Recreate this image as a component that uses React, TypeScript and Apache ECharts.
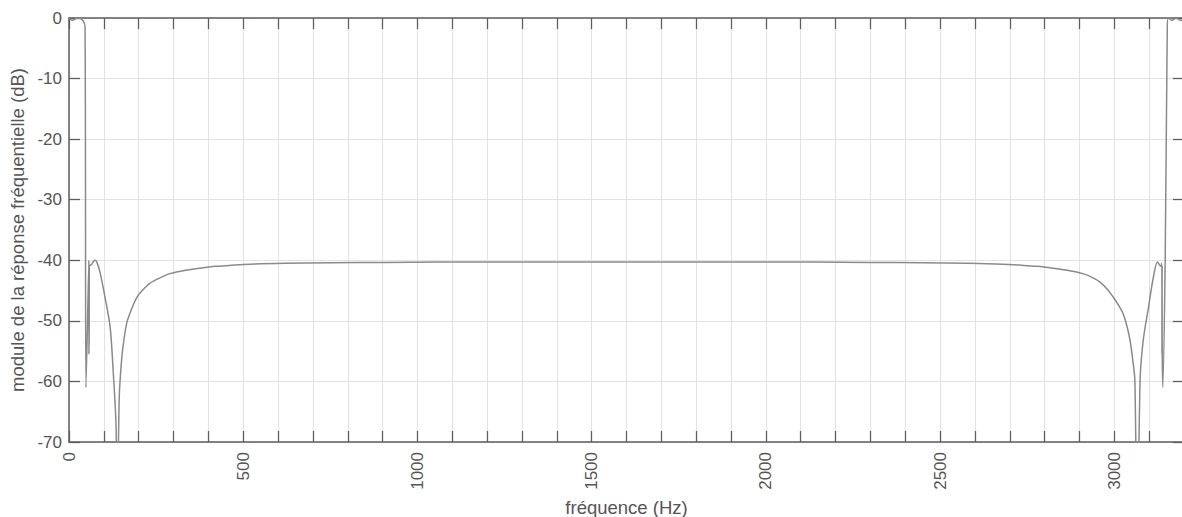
import React, { useEffect, useRef } from "react";
import * as echarts from "echarts";

// Frequency (Hz) and magnitude (dB)
const freqHz: number[] = [
  0, 10, 25, 40, 46, 48.8, 57, 57.3, 57.6, 57.9, 58.2, 62, 66, 70, 75, 80, 89, 103, 118, 127, 135, 138,
  144, 151, 158, 166, 180, 194, 210, 232, 261, 290, 340, 376, 420, 460, 520, 620, 750, 900, 1065, 1300,
  1600, 1900, 2135, 2300, 2450, 2580, 2680, 2740, 2780, 2824, 2860, 2910, 2939, 2959, 2980, 2997, 3012,
  3025, 3036, 3045, 3053, 3059, 3066, 3074, 3083, 3098, 3112, 3124, 3133, 3136.5, 3136.8, 3137.1,
  3137.4, 3139, 3146, 3152, 3155, 3165, 3178, 3190, 3200,
];
const magDb: number[] = [
  0, -0.4, 0, -0.4, -1.5, -61, -40, -55.5, -41, -54, -41, -40.8, -40.6, -40.2, -40, -40.3, -42, -46, -51,
  -58.5, -67.4, -88, -63, -56.4, -53, -50.3, -48, -46.2, -45, -43.8, -42.9, -42.2, -41.6, -41.3, -41.0,
  -40.85, -40.65, -40.5, -40.4, -40.35, -40.3, -40.3, -40.3, -40.3, -40.3, -40.35, -40.4, -40.5,
  -40.65, -40.85, -41.0, -41.3, -41.6, -42.2, -42.9, -43.6, -44.8, -46.1, -47.4, -48.8, -50.8, -53.2,
  -56.5, -59.8, -88, -59.8, -53.2, -47.8, -42.8, -40.3, -41, -40.5, -55.5, -41, -54, -61, -40, -1.5, 0,
  -0.4, 0, -0.4, 0,
];

const xTickLabels: number[] = [0, 500, 1000, 1500, 2000, 2500, 3000];
const yTickLabels: number[] = [0, -10, -20, -30, -40, -50, -60, -70];

const FONT = "'Liberation Sans', Arial, sans-serif";
const AXIS_COLOR = "#5e5e5e";
const GRID_COLOR = "#e2e2e2";

export default function App() {
  const ref = useRef<HTMLDivElement>(null);
  useEffect(() => {
    if (!ref.current) return;
    const chart = echarts.init(ref.current, undefined, { renderer: "svg" });
    const data = freqHz.map((f, i) => [f, magDb[i]]);
    const axisLine = { show: true, onZero: false, lineStyle: { color: AXIS_COLOR, width: 1.5 } };
    const axisTick = { show: true, inside: true, length: 11, lineStyle: { color: AXIS_COLOR, width: 1.3 } };
    chart.setOption({
      animation: false,
      backgroundColor: "#ffffff",
      textStyle: { fontFamily: FONT },
      grid: {
        left: 69,
        top: 18,
        right: -2,
        bottom: 75,
        containLabel: false,
        outerBoundsMode: "none",
      },
      xAxis: [
        {
          type: "value",
          min: 0,
          max: 3200,
          interval: 100,
          position: "bottom",
          name: "fréquence (Hz)",
          nameLocation: "middle",
          nameGap: 54,
          nameTextStyle: { fontSize: 18.5, color: "#555", fontFamily: FONT },
          axisLine,
          axisTick,
          axisLabel: {
            rotate: 90,
            margin: 10,
            fontSize: 17,
            color: "#555",
            fontFamily: FONT,
            showMaxLabel: false,
            formatter: (v: number) => (xTickLabels.includes(v) ? String(v) : ""),
          },
          splitLine: { show: true, lineStyle: { color: GRID_COLOR, width: 1 } },
        },
        {
          type: "value",
          min: 0,
          max: 3200,
          interval: 100,
          position: "top",
          axisLine,
          axisTick,
          axisLabel: { show: false },
          splitLine: { show: false },
        },
      ],
      yAxis: [
        {
          type: "value",
          min: -70,
          max: 0,
          interval: 10,
          position: "left",
          name: "module de la réponse fréquentielle (dB)",
          nameLocation: "middle",
          nameGap: 38,
          nameTextStyle: { fontSize: 18.5, color: "#555", fontFamily: FONT },
          axisLine,
          axisTick,
          axisLabel: {
            margin: 7,
            fontSize: 17,
            color: "#555",
            fontFamily: FONT,
            formatter: (v: number) => (yTickLabels.includes(v) ? String(v) : ""),
          },
          splitLine: { show: true, lineStyle: { color: GRID_COLOR, width: 1 } },
        },
        {
          type: "value",
          min: -70,
          max: 0,
          interval: 10,
          position: "right",
          axisLine,
          axisTick,
          axisLabel: { show: false },
          splitLine: { show: false },
        },
      ],
      series: [
        {
          type: "line",
          data,
          xAxisIndex: 0,
          yAxisIndex: 0,
          showSymbol: false,
          smooth: 0.3,
          clip: true,
          lineStyle: { color: "#8a8a8a", width: 1.5 },
        },
      ],
    });
    return () => chart.dispose();
  }, []);
  return (
    <div
      ref={ref}
      style={{ position: "absolute", left: 0, top: 0, width: 1182, height: 517, background: "#fff" }}
    />
  );
}
